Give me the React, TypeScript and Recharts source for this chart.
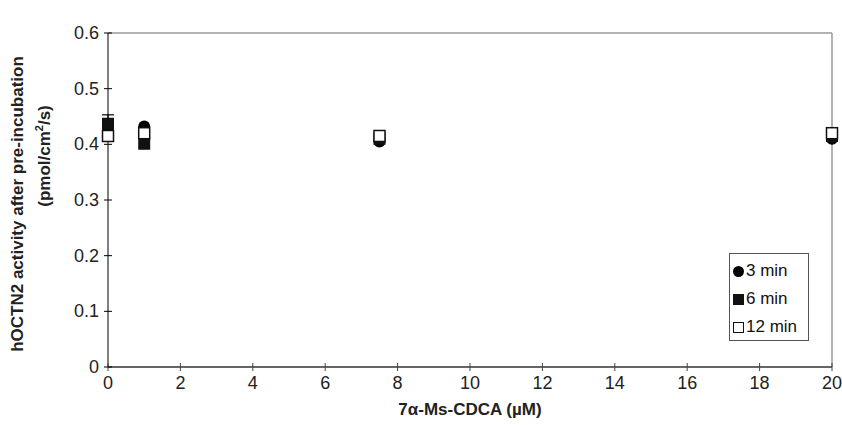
import React from "react";
import {
  ScatterChart,
  Scatter,
  XAxis,
  YAxis,
  ErrorBar,
  ReferenceLine,
} from "recharts";

const DOSES = [0, 1, 7.5, 20];
const MIN3 = [0.43, 0.432, 0.405, 0.41];
const MIN6 = [0.437, 0.401, 0.41, 0.415];
const MIN12 = [0.415, 0.42, 0.415, 0.42];
// only the 6 min point at 0 µM shows a visible error bar
const ERR6_X = [0];
const ERR6_Y = [0.437];
const ERR6 = [0.016];
const X_TICKS = [0, 2, 4, 6, 8, 10, 12, 14, 16, 18, 20];
const Y_TICKS = [0, 0.1, 0.2, 0.3, 0.4, 0.5, 0.6];

const toRows = (vals: number[]) => DOSES.map((d, i) => ({ x: d, y: vals[i] }));
const errRows = ERR6_X.map((d, i) => ({ x: d, y: ERR6_Y[i], err: ERR6[i] }));

const FONT = "Liberation Sans, Arial, sans-serif";

const Circle = ({ cx, cy }: any) => <circle cx={cx} cy={cy} r={6} fill="#000" />;
const FilledSq = ({ cx, cy }: any) => (
  <rect x={cx - 6} y={cy - 6} width={12} height={12} fill="#111" />
);
const OpenSq = ({ cx, cy }: any) => (
  <rect x={cx - 5.5} y={cy - 5.5} width={11} height={11} fill="#fff" stroke="#111" strokeWidth={1.5} />
);
const Nothing = () => <g />;

const SERIES = [
  { name: "3 min", data: toRows(MIN3), shape: Circle },
  { name: "6 min", data: toRows(MIN6), shape: FilledSq },
  { name: "12 min", data: toRows(MIN12), shape: OpenSq },
];

const YTick = ({ x, y, payload }: any) => (
  <g>
    <line x1={x + 4} x2={x + 12} y1={y} y2={y} stroke="#000" />
    <text x={x - 1} y={y} dy={6} textAnchor="end" fontSize={18} fill="#222" fontFamily={FONT}>
      {payload.value === 0 ? "0" : payload.value.toFixed(1)}
    </text>
  </g>
);

const XTick = ({ x, y, payload }: any) => (
  <g>
    <line x1={x} x2={x} y1={y - 12} y2={y - 4} stroke="#444" />
    <text x={x} y={y} dy={14} textAnchor="middle" fontSize={18} fill="#222" fontFamily={FONT}>
      {payload.value}
    </text>
  </g>
);

const LegendBox = () => (
  <div
    style={{
      position: "absolute",
      left: 729,
      top: 253,
      border: "1px solid #555",
      background: "#fff",
      width: 80,
      height: 88,
      fontFamily: FONT,
      fontSize: 17,
      color: "#111",
      boxSizing: "border-box",
      paddingTop: 3,
    }}
  >
    {SERIES.map((s, i) => (
      <div key={s.name} style={{ display: "flex", alignItems: "center", height: 28, paddingLeft: 2 }}>
        <svg width={13} height={13} style={{ marginRight: 1 }}>
          {i === 0 && <circle cx={6.5} cy={6.5} r={5.5} fill="#000" />}
          {i === 1 && <rect x={1} y={1} width={11} height={11} fill="#111" />}
          {i === 2 && <rect x={1.5} y={1.5} width={10} height={10} fill="#fff" stroke="#111" />}
        </svg>
        <span>{s.name}</span>
      </div>
    ))}
  </div>
);

const YLabel = () => (
  <g fontFamily={FONT} fontWeight="bold" fill="#222">
    <text transform="translate(23,204) rotate(-90)" textAnchor="middle" fontSize={17}>
      hOCTN2 activity after pre-incubation
    </text>
    <text transform="translate(50,156) rotate(-90)" textAnchor="middle" fontSize={17}>
      (pmol/cm<tspan fontSize={11} dy={-7}>2</tspan>
      <tspan dy={7}>/s)</tspan>
    </text>
  </g>
);

export default function App() {
  return (
    <div style={{ position: "absolute", left: 0, top: 0, width: 842, height: 425, background: "#fff" }}>
      <ScatterChart width={842} height={425} margin={{ top: 33, right: 10, bottom: 28, left: 48 }}>
        <XAxis
          type="number"
          dataKey="x"
          domain={[0, 20]}
          ticks={X_TICKS}
          tick={<XTick />}
          tickLine={false}
          tickSize={4}
          tickMargin={4}
          axisLine={{ stroke: "#666", strokeWidth: 2 }}
          height={30}
          label={{
            value: "7α-Ms-CDCA (µM)",
            position: "insideBottom",
            offset: -18,
            style: { fontFamily: FONT, fontWeight: "bold", fontSize: 17, fill: "#222" },
          }}
        />
        <YAxis
          type="number"
          dataKey="y"
          domain={[0, 0.6]}
          ticks={Y_TICKS}
          tick={<YTick />}
          tickLine={false}
          tickSize={4}
          tickMargin={4}
          axisLine={{ stroke: "#000", strokeWidth: 1 }}
          width={60}
          label={{ content: () => <YLabel /> }}
        />
        <ReferenceLine y={0.6} stroke="#999" strokeWidth={1.5} ifOverflow="visible" />
        <ReferenceLine x={20} stroke="#999" strokeWidth={1.5} ifOverflow="visible" />
        <Scatter name="6 min error" data={errRows} shape={Nothing} isAnimationActive={false} legendType="none">
          <ErrorBar dataKey="err" direction="y" width={6} stroke="#000" strokeWidth={1.2} />
        </Scatter>
        {SERIES.map((s) => (
          <Scatter key={s.name} name={s.name} data={s.data} shape={s.shape} isAnimationActive={false} />
        ))}
      </ScatterChart>
      <LegendBox />
    </div>
  );
}
